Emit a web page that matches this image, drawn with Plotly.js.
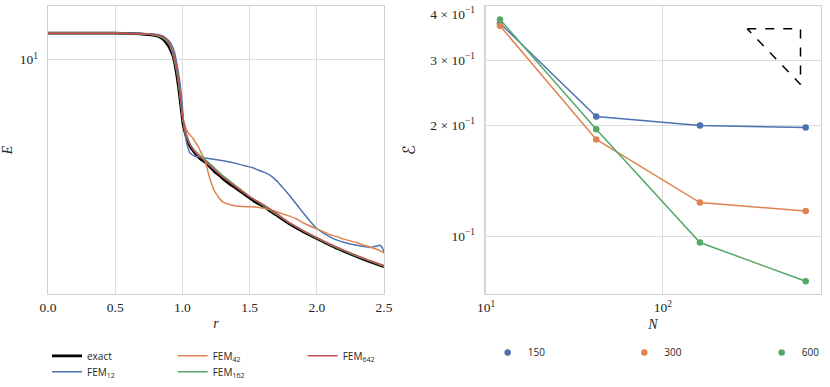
<!DOCTYPE html>
<html><head><meta charset="utf-8">
<script src="https://cdn.plot.ly/plotly-3.0.1.min.js"></script>
<style>html,body{margin:0;padding:0;background:#fff}</style>
</head><body>
<div id="chart" style="width:830px;height:387px"></div>
<script>
// ---- left panel: E(r) ----
const rExact = [0,0.5,0.6,0.7,0.75,0.8,0.83,0.86,0.88,0.9,0.918,0.93,0.943,0.96,0.97,0.98,0.99,0.995,1.0,1.005,1.015,1.03,1.05,1.067,1.09,1.117,1.14,1.166,1.2,1.241,1.28,1.315,1.35,1.39,1.45,1.5,1.55,1.613,1.65,1.7,1.775,1.85,1.9,2.0,2.1,2.2,2.3,2.4,2.5];
const eExact = [12.04,12.04,12.02,11.97,11.91,11.83,11.73,11.50,11.24,10.94,10.55,10.24,9.72,8.85,8.29,7.69,7.10,6.85,6.57,6.34,6.08,5.79,5.51,5.34,5.19,5.04,4.94,4.86,4.71,4.53,4.40,4.27,4.16,4.06,3.90,3.77,3.65,3.54,3.44,3.34,3.18,3.05,2.97,2.83,2.70,2.59,2.49,2.40,2.32];

const r12 = [0,0.5,0.7,0.8,0.83,0.87,0.906,0.925,0.943,0.955,0.967,0.977,0.985,0.993,1.0,1.006,1.012,1.02,1.03,1.042,1.055,1.07,1.092,1.13,1.166,1.22,1.315,1.4,1.464,1.52,1.564,1.6,1.65,1.7,1.75,1.8,1.85,1.9,1.95,2.0,2.05,2.1,2.15,2.2,2.3,2.4,2.44,2.465,2.48,2.49,2.5];
const e12 = [12.04,12.04,12.01,11.95,11.89,11.70,11.32,10.98,10.45,9.88,9.28,8.77,8.25,7.72,7.16,6.61,6.21,5.91,5.59,5.36,5.19,5.12,5.06,5.03,5.00,4.96,4.89,4.81,4.73,4.67,4.59,4.53,4.43,4.26,4.04,3.82,3.60,3.39,3.20,3.04,2.94,2.86,2.80,2.76,2.70,2.66,2.68,2.70,2.68,2.64,2.57];

const r42 = [0,0.5,0.7,0.8,0.85,0.88,0.9,0.92,0.94,0.96,0.975,0.99,1.0,1.005,1.017,1.03,1.055,1.08,1.1,1.117,1.13,1.15,1.166,1.179,1.2,1.216,1.235,1.253,1.266,1.29,1.315,1.35,1.39,1.45,1.514,1.58,1.65,1.7,1.775,1.85,1.9,2.0,2.1,2.15,2.2,2.3,2.4,2.45,2.5];
const e42 = [12.04,12.04,11.99,11.89,11.72,11.50,11.22,10.79,10.13,9.21,8.34,7.35,6.78,6.57,6.35,6.08,5.89,5.73,5.55,5.43,5.28,5.08,4.92,4.72,4.38,4.18,3.98,3.87,3.80,3.70,3.64,3.60,3.57,3.55,3.54,3.52,3.47,3.42,3.34,3.25,3.16,3.03,2.91,2.87,2.82,2.75,2.66,2.62,2.56];

const r162 = [0,0.5,0.7,0.8,0.85,0.88,0.9,0.92,0.94,0.96,0.975,0.99,1.0,1.01,1.03,1.05,1.08,1.12,1.166,1.2,1.3,1.4,1.5,1.6,1.7,1.8,1.9,2.0,2.1,2.2,2.3,2.4,2.5];
const e162 = [12.04,12.04,11.99,11.87,11.66,11.42,11.14,10.68,9.95,9.08,8.23,7.30,6.71,6.35,5.85,5.57,5.34,5.13,4.96,4.82,4.41,4.10,3.81,3.58,3.36,3.15,2.99,2.84,2.71,2.60,2.50,2.41,2.33];

const r642 = [0,0.5,0.7,0.8,0.85,0.88,0.9,0.92,0.94,0.96,0.975,0.99,1.0,1.01,1.03,1.05,1.08,1.12,1.166,1.2,1.3,1.4,1.5,1.6,1.7,1.8,1.9,2.0,2.1,2.2,2.3,2.4,2.5];
const e642 = [12.04,12.04,11.99,11.91,11.74,11.54,11.26,10.83,10.16,9.28,8.40,7.40,6.80,6.34,5.87,5.57,5.30,5.08,4.90,4.75,4.37,4.07,3.80,3.60,3.38,3.16,2.99,2.85,2.72,2.61,2.51,2.42,2.34];

const xTicksLeft = [0,0.5,1,1.5,2,2.5];
const xTickTextLeft = ['0.0','0.5','1.0','1.5','2.0','2.5'];
const yTicksLeft = [10];
const yTickTextLeft = ['10<sup>1</sup>'];

// ---- right panel: error vs N ----
const nVals = [12, 42, 162, 642];
const err150 = [0.378, 0.211, 0.1995, 0.197];
const err300 = [0.372, 0.183, 0.1234, 0.117];
const err600 = [0.387, 0.195, 0.0961, 0.0755];
const triN = [300, 600, 600, 300];
const triErr = [0.365, 0.365, 0.258, 0.365];

const xTicksRight = [10, 100];
const xTickTextRight = ['10<sup>1</sup>', '10<sup>2</sup>'];
const yTicksRight = [0.1, 0.2, 0.3, 0.4];
const yTickTextRight = ['10<sup>\u22121</sup>', '2 \u00d7 10<sup>\u22121</sup>', '3 \u00d7 10<sup>\u22121</sup>', '4 \u00d7 10<sup>\u22121</sup>'];
const yGridRight = [0.1, 0.2, 0.3];

const C = {blue:'#4c72b0', orange:'#dd8452', green:'#55a868', red:'#c44e52'};
const W = 830, H = 387;
const M = {l:48, r:9, t:6, b:93};
const PW = W - M.l - M.r, PH = H - M.t - M.b;
const legFont = {family:'Open Sans', size:10, color:'#262626'};
function leg(px, py){
  return {x:(px - M.l)/PW, y:(H - M.b - py)/PH, xref:'paper', yref:'paper', xanchor:'left', yanchor:'top',
          bgcolor:'rgba(0,0,0,0)', borderwidth:0, font:legFont};
}

const traces = [
  {x:rExact, y:eExact, mode:'lines', name:'exact', line:{color:'#000', width:2.75, shape:'spline', smoothing:0.4}, legend:'legend'},
  {x:r12, y:e12, mode:'lines', name:'FEM<sub>12</sub>', line:{color:C.blue, width:1.5, shape:'spline', smoothing:0.4}, legend:'legend2'},
  {x:r42, y:e42, mode:'lines', name:'FEM<sub>42</sub>', line:{color:C.orange, width:1.5, shape:'spline', smoothing:0.4}, legend:'legend3'},
  {x:r162, y:e162, mode:'lines', name:'FEM<sub>162</sub>', line:{color:C.green, width:1.5, shape:'spline', smoothing:0.4}, legend:'legend4'},
  {x:r642, y:e642, mode:'lines', name:'FEM<sub>642</sub>', line:{color:C.red, width:1.5, shape:'spline', smoothing:0.4}, legend:'legend5'},

  {x:nVals, y:err150, xaxis:'x2', yaxis:'y2', mode:'lines+markers', name:'150', showlegend:false, line:{color:C.blue, width:1.5}, marker:{color:C.blue, size:6.5}},
  {x:nVals, y:err300, xaxis:'x2', yaxis:'y2', mode:'lines+markers', name:'300', showlegend:false, line:{color:C.orange, width:1.5}, marker:{color:C.orange, size:6.5}},
  {x:nVals, y:err600, xaxis:'x2', yaxis:'y2', mode:'lines+markers', name:'600', showlegend:false, line:{color:C.green, width:1.5}, marker:{color:C.green, size:6.5}},
  {x:triN, y:triErr, xaxis:'x2', yaxis:'y2', mode:'lines', showlegend:false, line:{color:'#000', width:1.5, dash:'dash'}},

  {x:[null], y:[null], xaxis:'x2', yaxis:'y2', mode:'markers', name:'150', marker:{color:C.blue, size:6.5}, legend:'legend6'},
  {x:[null], y:[null], xaxis:'x2', yaxis:'y2', mode:'markers', name:'300', marker:{color:C.orange, size:6.5}, legend:'legend7'},
  {x:[null], y:[null], xaxis:'x2', yaxis:'y2', mode:'markers', name:'600', marker:{color:C.green, size:6.5}, legend:'legend8'}
];

const serif = 'Liberation Serif';
const tickFont = {family:serif, size:13.5, color:'#262626'};
const axisBase = {showline:true, mirror:true, linecolor:'#d0d0d0', linewidth:1.25, gridcolor:'#dcdcdc', gridwidth:1, zeroline:false,
               ticks:'outside', tickcolor:'rgba(0,0,0,0)', automargin:false};
const titleFont = {family:serif, size:14, color:'#262626'};

const layout = {
  width:W, height:H,
  font:{family:serif, size:13.5, color:'#262626'},
  margin:{l:M.l, r:M.r, t:M.t, b:M.b, autoexpand:false},
  paper_bgcolor:'#fff', plot_bgcolor:'#fff',
  xaxis: Object.assign({}, axisBase, {domain:[0, 0.4347], range:[0, 2.5], tickvals:xTicksLeft, ticktext:xTickTextLeft, ticklen:1,
         tickfont:tickFont, title:{text:'<i>r</i>', font:titleFont, standoff:3}}),
  yaxis: Object.assign({}, axisBase, {type:'log', range:[0.28226, 1.16391], tickvals:yTicksLeft, ticktext:yTickTextLeft, ticklen:6,
         tickfont:tickFont, title:{text:'<i>E</i>', font:titleFont, standoff:8}}),
  xaxis2: Object.assign({}, axisBase, {domain:[0.5653, 1], anchor:'y2', type:'log', range:[0.9943, 2.894], tickvals:xTicksRight, ticktext:xTickTextRight, ticklen:1,
         tickfont:tickFont, title:{text:'<i>N</i>', font:titleFont, standoff:4}}),
  yaxis2: Object.assign({}, axisBase, {anchor:'x2', type:'log', range:[-1.1568, -0.3757], tickvals:yTicksRight, ticktext:yTickTextRight, ticklen:6,
         tickfont:tickFont, showgrid:false, minor:{tickvals:yGridRight, showgrid:true, gridcolor:'#dcdcdc', gridwidth:1, ticks:''},
         title:{text:'\u2130', font:{family:'DejaVu Sans', size:17, color:'#262626'}, standoff:10}}),
  legend: leg(47, 341.3),
  legend2: leg(47, 357.3),
  legend3: leg(172.7, 341.3),
  legend4: leg(172.7, 357.3),
  legend5: leg(302.7, 341.3),
  legend6: leg(487.7, 338),
  legend7: leg(624.3, 338),
  legend8: leg(761.7, 338),
  showlegend:true
};

Plotly.newPlot('chart', traces, layout, {staticPlot:true, displayModeBar:false});
</script>
</body></html>
